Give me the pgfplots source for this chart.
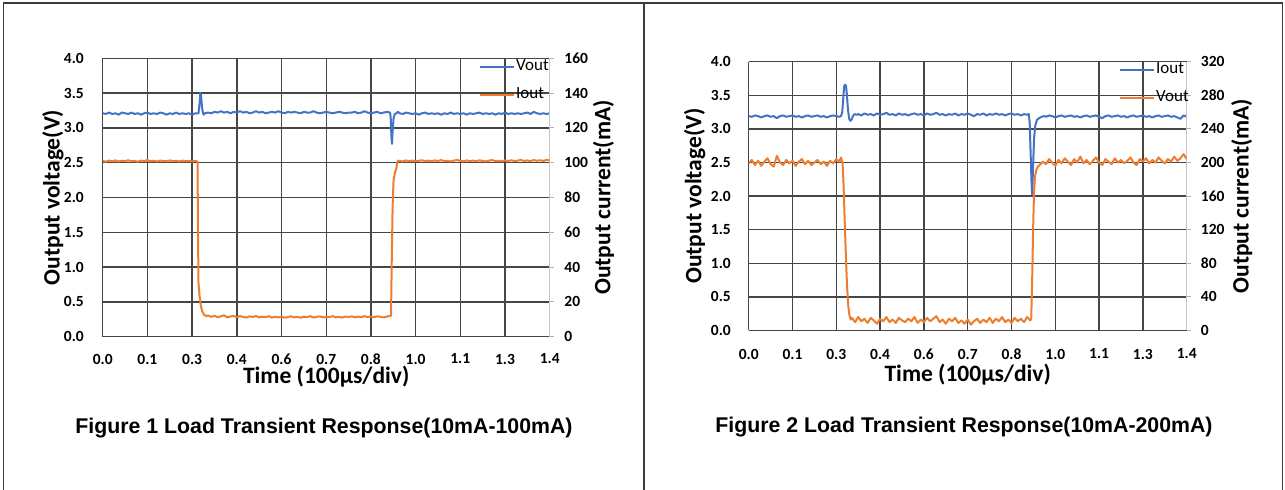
\documentclass[border=0pt]{standalone}
\usepackage{fontspec}
\setmainfont{Carlito}
\newfontfamily\capfont{Liberation Sans}
\usepackage{pgfplots}
\pgfplotsset{compat=1.18}

\definecolor{vblue}{HTML}{4472C4}
\definecolor{iorange}{HTML}{ED7D31}
\definecolor{gridc}{HTML}{464646}
\definecolor{framec}{HTML}{3C3C3C}

\newcommand\tickfont{\fontsize{15.5bp}{17bp}\selectfont\bfseries}
\newcommand\labfont{\fontsize{23.5bp}{25bp}\selectfont\bfseries}
\newcommand\legfont{\fontsize{17bp}{19bp}\selectfont}

\pgfplotsset{
  leftax/.style={
    scale only axis, xmin=0, xmax=1.4, ymin=0, ymax=4,
    axis x line*=bottom, axis y line*=left,
    axis line style={gridc, line width=1.4bp},
    xtick={0,0.14,0.28,0.42,0.56,0.70,0.84,0.98,1.12,1.26},
    xticklabels={0.0,0.1,0.3,0.4,0.6,0.7,0.8,1.0,1.1,1.3},
    extra x ticks={1.4}, extra x tick labels={1.4},
    extra x tick style={grid=none},
    ytick={0,0.5,1,1.5,2,2.5,3,3.5,4},
    yticklabels={0.0,0.5,1.0,1.5,2.0,2.5,3.0,3.5,4.0},
    grid=major, major grid style={gridc, line width=1.4bp},
    major tick length=0pt,
    tick label style={font=\tickfont, text=black},
    xlabel={Time (100µs/div)}, ylabel={Output voltage(V)},
    label style={font=\labfont, text=black, anchor=center},
  },
  rightax/.style={
    scale only axis, xmin=0, xmax=1.4,
    axis x line=none, axis y line*=right,
    axis line style={gray!45, line width=1bp},
    tick align=outside, major tick length=4bp,
    ytick style={gray!60, line width=1bp},
    /pgf/number format/assume math mode=true,
    tick label style={font=\tickfont, text=black},
    yticklabel style={anchor=west, inner sep=0pt},
    ylabel={Output current(mA)},
    label style={font=\labfont, text=black, anchor=center},
    legend style={draw=none, fill=none, anchor=north west, font=\legfont,
      inner sep=0pt, row sep=15bp, column sep=1bp,
      nodes={inner sep=0pt, text height=10bp, text depth=3bp}},
    legend cell align=left,
    legend image code/.code={\draw[##1, line width=2bp] (0bp,0bp) -- (34bp,0bp);},
  },
}

\begin{document}
\begin{tikzpicture}[x=1bp, y=1bp]
\useasboundingbox (0,0) rectangle (1285,490);

% table frame
\draw[framec, line width=1.3bp] (3.3,0) -- (3.3,487) -- (1282.7,487) -- (1282.7,0);
\draw[framec, line width=1.3bp] (644,487) -- (644,0);

% ---------- Figure 1 ----------
\begin{axis}[leftax, at={(102.7bp,153.3bp)}, anchor=south west,
    width=447bp, height=278.4bp,
    xticklabel style={anchor=center, inner sep=0pt, yshift=-22.3bp},
    yticklabel style={anchor=east, inner sep=0pt, xshift=-18.7bp},
    xlabel style={at={(axis description cs:0.5,-0.1448)}},
    ylabel style={at={(axis description cs:-0.1112,0.5)}},
]
\addplot[vblue, line width=2bp, line join=round] coordinates {
(0.00,3.21) (0.01,3.20) (0.02,3.22) (0.03,3.20) (0.04,3.21) (0.05,3.19) (0.06,3.22) (0.07,3.21)
(0.08,3.20) (0.09,3.22) (0.10,3.20) (0.11,3.21) (0.12,3.19) (0.13,3.21) (0.14,3.22) (0.15,3.20)
(0.16,3.21) (0.17,3.20) (0.18,3.22) (0.19,3.21) (0.20,3.19) (0.21,3.21) (0.22,3.20) (0.23,3.22)
(0.24,3.20) (0.25,3.21) (0.26,3.20) (0.27,3.21) (0.28,3.19) (0.29,3.21)
(0.300,3.21) (0.303,3.33) (0.306,3.50) (0.308,3.47) (0.311,3.30) (0.314,3.21) (0.317,3.19) (0.32,3.21)
(0.33,3.22) (0.34,3.21) (0.35,3.23) (0.36,3.22) (0.37,3.24) (0.38,3.22) (0.39,3.23) (0.40,3.21)
(0.41,3.23) (0.42,3.22) (0.43,3.24) (0.44,3.22) (0.45,3.23) (0.46,3.21) (0.47,3.22) (0.48,3.24)
(0.49,3.22) (0.50,3.23) (0.51,3.21) (0.52,3.22) (0.53,3.23) (0.54,3.22) (0.55,3.24) (0.56,3.22)
(0.57,3.21) (0.58,3.23) (0.59,3.22) (0.60,3.23) (0.61,3.22) (0.62,3.21) (0.63,3.23) (0.64,3.22)
(0.65,3.22) (0.66,3.24) (0.67,3.22) (0.68,3.21) (0.69,3.22) (0.70,3.23) (0.71,3.22) (0.72,3.21)
(0.73,3.22) (0.74,3.23) (0.75,3.22) (0.76,3.21) (0.77,3.22) (0.78,3.22) (0.79,3.23) (0.80,3.21)
(0.81,3.22) (0.82,3.24) (0.83,3.22) (0.84,3.21) (0.85,3.22) (0.86,3.23) (0.87,3.21) (0.88,3.22)
(0.89,3.23) (0.90,3.22)
(0.902,3.15) (0.904,2.90) (0.906,2.77) (0.908,2.95) (0.911,3.14) (0.915,3.20) (0.92,3.21) (0.925,3.23)
(0.93,3.21) (0.94,3.20) (0.95,3.22) (0.96,3.21) (0.97,3.20) (0.98,3.21) (0.99,3.19) (1.00,3.21)
(1.01,3.22) (1.02,3.20) (1.03,3.21) (1.04,3.20) (1.05,3.21) (1.06,3.19) (1.07,3.21) (1.08,3.20)
(1.09,3.22) (1.10,3.20) (1.11,3.21) (1.12,3.20) (1.13,3.21) (1.14,3.19) (1.15,3.21) (1.16,3.20)
(1.17,3.21) (1.18,3.22) (1.19,3.20) (1.20,3.21) (1.21,3.20) (1.22,3.21) (1.23,3.19) (1.24,3.21)
(1.25,3.20) (1.26,3.22) (1.27,3.20) (1.28,3.21) (1.29,3.20) (1.30,3.21) (1.31,3.20) (1.32,3.21)
(1.33,3.22) (1.34,3.20) (1.35,3.23) (1.36,3.21) (1.37,3.20) (1.38,3.21) (1.39,3.20) (1.40,3.21)
};
\end{axis}

\begin{axis}[rightax, at={(102.7bp,153.3bp)}, anchor=south west,
    width=447bp, height=278.4bp,
    ymin=0, ymax=160, ytick={0,20,...,160},
    yticklabel style={xshift=10.5bp},
    ylabel style={at={(axis description cs:1.1201,0.5)}},
    legend style={at={(axis description cs:0.8418,0.993)}},
]
\addlegendimage{vblue}
\addlegendentry{Vout}
\addplot[iorange, line width=2bp, line join=round] coordinates {
(0.00,101.0) (0.01,100.6) (0.02,101.2) (0.03,100.8) (0.04,101.3) (0.05,100.7) (0.06,101.1) (0.07,100.9)
(0.08,101.4) (0.09,100.8) (0.10,101.0) (0.11,100.6) (0.12,101.2) (0.13,100.9) (0.14,101.5) (0.15,100.8)
(0.16,101.1) (0.17,100.7) (0.18,101.2) (0.19,101.0) (0.20,100.8) (0.21,101.3) (0.22,100.9) (0.23,101.1)
(0.24,100.7) (0.25,101.2) (0.26,100.9) (0.27,101.0) (0.28,100.7) (0.29,101.1) (0.295,100.8)
(0.297,100.5) (0.2985,60) (0.300,31) (0.303,24) (0.307,18) (0.312,14.5) (0.318,12.5) (0.325,11.8) (0.33,12.2)
(0.34,11.4) (0.35,12.0) (0.36,11.2) (0.37,11.7) (0.38,12.3) (0.39,11.1) (0.40,11.6) (0.41,11.9)
(0.42,11.2) (0.43,11.8) (0.44,11.4) (0.45,11.0) (0.46,11.7) (0.47,11.3) (0.48,11.9) (0.49,11.1)
(0.50,11.5) (0.51,11.2) (0.52,11.8) (0.53,11.0) (0.54,11.4) (0.55,11.1) (0.56,11.6) (0.57,10.9)
(0.58,11.3) (0.59,11.7) (0.60,11.1) (0.61,11.4) (0.62,10.9) (0.63,11.5) (0.64,11.2) (0.65,11.8)
(0.66,11.0) (0.67,11.4) (0.68,11.7) (0.69,11.1) (0.70,11.5) (0.71,11.2) (0.72,11.8) (0.73,11.1)
(0.74,11.4) (0.75,11.0) (0.76,11.6) (0.77,11.3) (0.78,11.7) (0.79,11.1) (0.80,11.5) (0.81,11.2)
(0.82,11.8) (0.83,11.3) (0.84,11.6) (0.85,11.2) (0.86,11.7) (0.87,11.4) (0.88,11.1) (0.89,11.6)
(0.90,11.9) (0.903,12)
(0.905,40) (0.908,75) (0.911,90) (0.914,93) (0.916,95) (0.919,96) (0.922,100) (0.925,101.2)
(0.93,101.0) (0.94,100.7) (0.95,101.3) (0.96,100.9) (0.97,101.2) (0.98,100.8) (0.99,101.1) (1.00,101.4)
(1.01,100.9) (1.02,101.2) (1.03,100.8) (1.04,101.3) (1.05,101.0) (1.06,101.5) (1.07,100.9) (1.08,101.1)
(1.09,100.7) (1.10,101.2) (1.11,101.6) (1.12,101.0) (1.13,100.8) (1.14,101.3) (1.15,100.9) (1.16,101.2)
(1.17,100.8) (1.18,101.4) (1.19,101.0) (1.20,100.7) (1.21,101.2) (1.22,101.5) (1.23,100.9) (1.24,101.1)
(1.25,100.8) (1.26,101.3) (1.27,101.0) (1.28,101.4) (1.29,100.9) (1.30,101.2) (1.31,101.6) (1.32,101.0)
(1.33,101.3) (1.34,100.9) (1.35,101.5) (1.36,101.1) (1.37,101.4) (1.38,101.0) (1.39,101.6) (1.40,101.3)
};
\addlegendentry{Iout}
\end{axis}

% ---------- Figure 2 ----------
\begin{axis}[leftax, at={(748.7bp,159.5bp)}, anchor=south west,
    width=438bp, height=268.8bp,
    xticklabel style={anchor=center, inner sep=0pt, yshift=-23.5bp},
    yticklabel style={anchor=east, inner sep=0pt, xshift=-17.7bp},
    xlabel style={at={(axis description cs:0.5,-0.1656)}},
    ylabel style={at={(axis description cs:-0.1233,0.5)}},
]
\addplot[vblue, line width=2bp, line join=round] coordinates {
(0.00,3.19) (0.01,3.18) (0.02,3.20) (0.03,3.19) (0.04,3.17) (0.05,3.19) (0.06,3.20) (0.07,3.18)
(0.08,3.19) (0.09,3.16) (0.10,3.19) (0.11,3.20) (0.12,3.18) (0.13,3.19) (0.14,3.20) (0.15,3.18)
(0.16,3.19) (0.17,3.17) (0.18,3.19) (0.19,3.20) (0.20,3.18) (0.21,3.19) (0.22,3.20) (0.23,3.18)
(0.24,3.19) (0.25,3.17) (0.26,3.19) (0.27,3.20) (0.28,3.19) (0.29,3.18)
(0.295,3.19) (0.299,3.25) (0.302,3.45) (0.305,3.63) (0.308,3.66) (0.311,3.64) (0.314,3.50) (0.317,3.30)
(0.321,3.15) (0.325,3.12) (0.329,3.14) (0.333,3.19) (0.338,3.22) (0.345,3.21)
(0.35,3.22) (0.36,3.20) (0.37,3.23) (0.38,3.21) (0.39,3.22) (0.40,3.20) (0.41,3.23) (0.42,3.21)
(0.43,3.22) (0.44,3.24) (0.45,3.21) (0.46,3.22) (0.47,3.20) (0.48,3.23) (0.49,3.21) (0.50,3.22)
(0.51,3.20) (0.52,3.22) (0.53,3.23) (0.54,3.21) (0.55,3.22) (0.56,3.20) (0.57,3.23) (0.58,3.21)
(0.59,3.22) (0.60,3.24) (0.61,3.21) (0.62,3.22) (0.63,3.20) (0.64,3.22) (0.65,3.21) (0.66,3.23)
(0.67,3.20) (0.68,3.22) (0.69,3.21) (0.70,3.23) (0.71,3.21) (0.72,3.19) (0.73,3.22) (0.74,3.21)
(0.75,3.23) (0.76,3.20) (0.77,3.22) (0.78,3.21) (0.79,3.23) (0.80,3.21) (0.81,3.22) (0.82,3.20)
(0.83,3.22) (0.84,3.23) (0.85,3.21) (0.86,3.22) (0.87,3.20) (0.88,3.22) (0.89,3.21)
(0.895,3.22) (0.898,3.10) (0.901,2.65) (0.904,2.20) (0.906,2.02) (0.909,2.45) (0.912,2.85) (0.916,3.05)
(0.921,3.13) (0.928,3.16) (0.936,3.18) (0.945,3.19)
(0.95,3.18) (0.96,3.20) (0.97,3.19) (0.98,3.17) (0.99,3.19) (1.00,3.20) (1.01,3.18) (1.02,3.19)
(1.03,3.20) (1.04,3.18) (1.05,3.19) (1.06,3.17) (1.07,3.19) (1.08,3.20) (1.09,3.18) (1.10,3.19)
(1.11,3.20) (1.12,3.18) (1.13,3.16) (1.14,3.19) (1.15,3.20) (1.16,3.18) (1.17,3.19) (1.18,3.20)
(1.19,3.18) (1.20,3.19) (1.21,3.17) (1.22,3.19) (1.23,3.20) (1.24,3.18) (1.25,3.19) (1.26,3.20)
(1.27,3.18) (1.28,3.19) (1.29,3.17) (1.30,3.19) (1.31,3.20) (1.32,3.18) (1.33,3.19) (1.34,3.20)
(1.35,3.18) (1.36,3.19) (1.37,3.17) (1.38,3.15) (1.39,3.20) (1.40,3.18)
};
\end{axis}

\begin{axis}[rightax, at={(748.7bp,159.5bp)}, anchor=south west,
    width=438bp, height=268.8bp,
    ymin=0, ymax=320, ytick={0,40,...,320},
    yticklabel style={xshift=10bp},
    ylabel style={at={(axis description cs:1.1256,0.5)}},
    legend style={at={(axis description cs:0.8454,0.993)}},
]
\addlegendimage{vblue}
\addlegendentry{Iout}
\addplot[iorange, line width=2bp, line join=round] coordinates {
(0.00,199) (0.01,203) (0.02,197) (0.03,202) (0.04,196) (0.05,201) (0.06,205) (0.07,198)
(0.08,195) (0.09,208) (0.10,200) (0.11,197) (0.12,203) (0.13,199) (0.14,202) (0.15,196)
(0.16,201) (0.17,204) (0.18,198) (0.19,202) (0.20,197) (0.21,200) (0.22,203) (0.23,198)
(0.24,201) (0.25,196) (0.26,202) (0.27,199) (0.28,204) (0.29,201) (0.295,206) (0.300,199)
(0.303,175) (0.306,140) (0.310,95) (0.314,55) (0.318,30) (0.322,18) (0.326,13) (0.33,15)
(0.34,10) (0.35,16) (0.36,11) (0.37,14) (0.38,9) (0.39,15) (0.40,12) (0.41,8)
(0.42,14) (0.43,11) (0.44,16) (0.45,10) (0.46,13) (0.47,9) (0.48,15) (0.49,12)
(0.50,10) (0.51,14) (0.52,11) (0.53,16) (0.54,9) (0.55,13) (0.56,10) (0.57,15)
(0.58,11) (0.59,14) (0.60,17) (0.61,10) (0.62,13) (0.63,8) (0.64,14) (0.65,11)
(0.66,15) (0.67,9) (0.68,12) (0.69,8) (0.70,13) (0.71,7) (0.72,11) (0.73,14)
(0.74,9) (0.75,13) (0.76,10) (0.77,15) (0.78,9) (0.79,14) (0.80,11) (0.81,16)
(0.82,10) (0.83,13) (0.84,9) (0.85,15) (0.86,11) (0.87,14) (0.88,10) (0.89,16)
(0.90,12) (0.903,14)
(0.906,60) (0.909,120) (0.912,165) (0.915,183) (0.919,191) (0.924,195) (0.93,197) (0.94,201)
(0.95,198) (0.96,204) (0.97,200) (0.98,196) (0.99,203) (1.00,199) (1.01,205) (1.02,201)
(1.03,197) (1.04,204) (1.05,200) (1.06,207) (1.07,199) (1.08,203) (1.09,198) (1.10,202)
(1.11,206) (1.12,200) (1.13,197) (1.14,204) (1.15,201) (1.16,198) (1.17,205) (1.18,200)
(1.19,203) (1.20,199) (1.21,202) (1.22,206) (1.23,200) (1.24,197) (1.25,204) (1.26,201)
(1.27,205) (1.28,199) (1.29,203) (1.30,200) (1.31,206) (1.32,202) (1.33,199) (1.34,204)
(1.35,201) (1.36,207) (1.37,202) (1.38,205) (1.39,210) (1.40,204)
};
\addlegendentry{Vout}
\end{axis}

% captions
\node[font=\capfont\fontsize{21.3bp}{23bp}\selectfont\bfseries, text=black] at (324,62)
  {Figure 1 Load Transient Response(10mA-100mA)};
\node[font=\capfont\fontsize{21.3bp}{23bp}\selectfont\bfseries, text=black] at (964,63)
  {Figure 2 Load Transient Response(10mA-200mA)};
\end{tikzpicture}
\end{document}
